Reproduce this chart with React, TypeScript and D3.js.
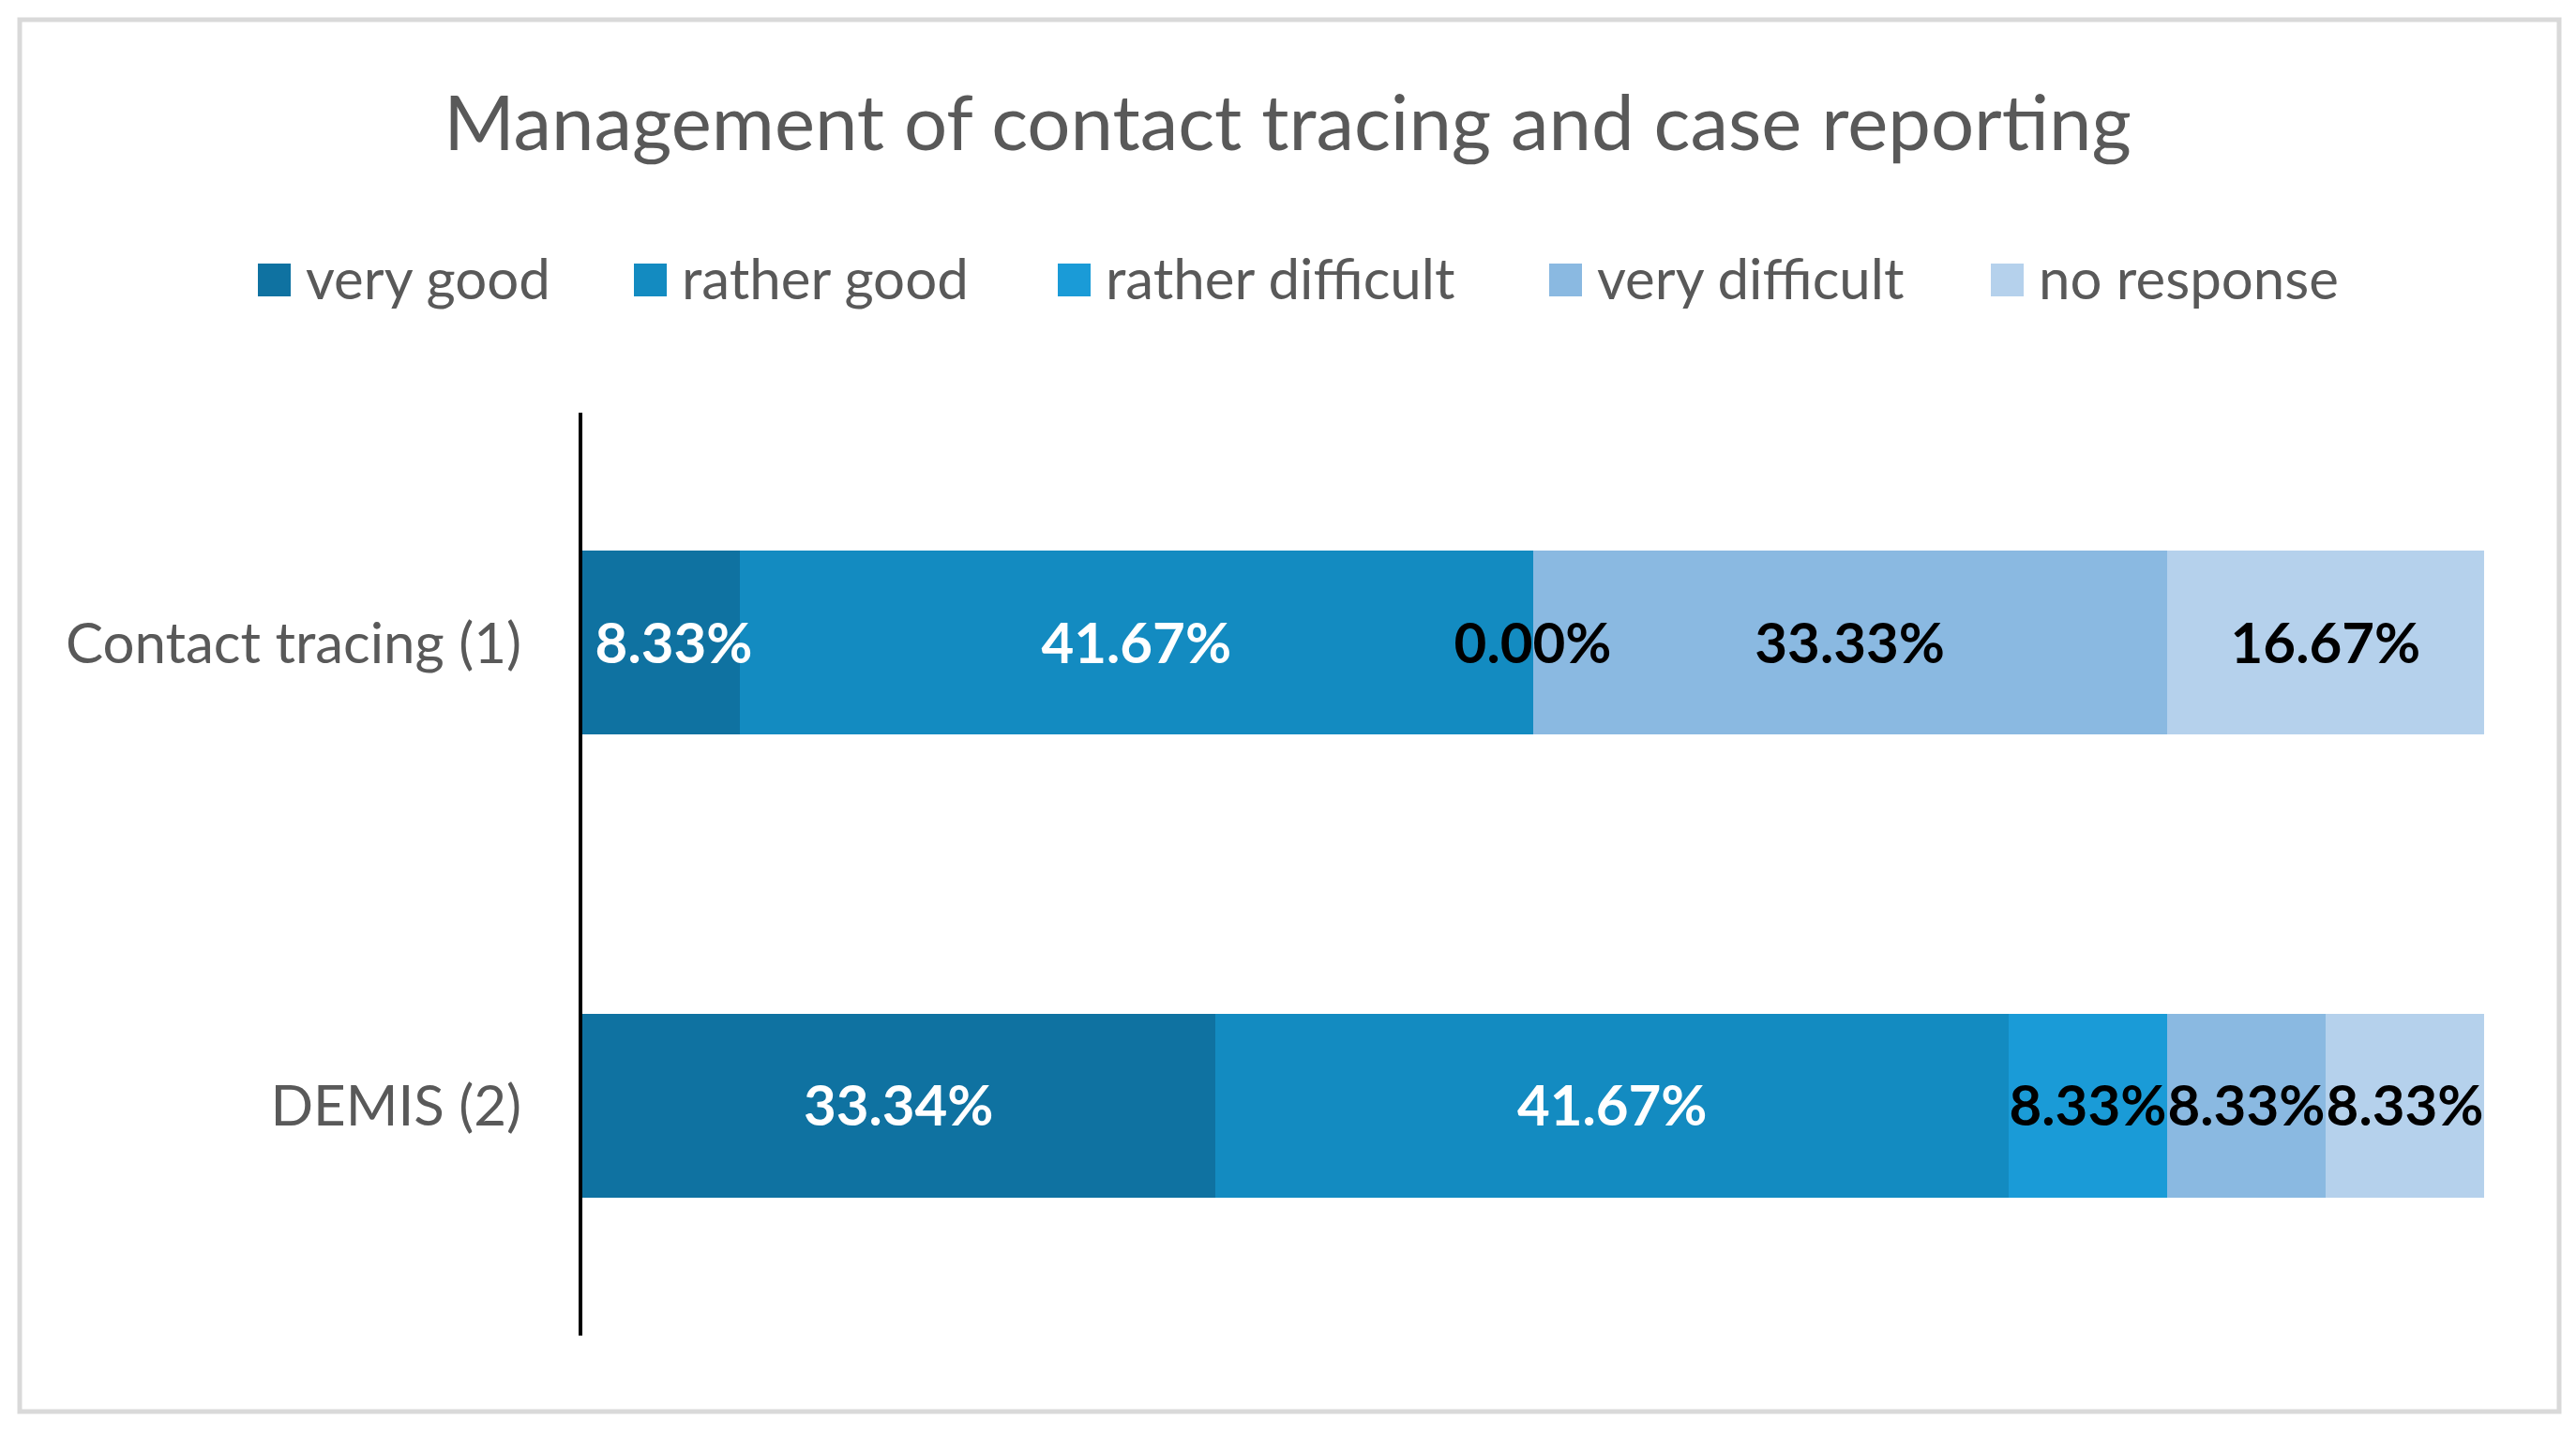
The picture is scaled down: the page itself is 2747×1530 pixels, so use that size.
import React from "react";
import * as d3 from "d3";

const title = "Management of contact tracing and case reporting";
const categories = ["Contact tracing (1)", "DEMIS (2)"];
const seriesNames = ["very good", "rather good", "rather difficult", "very difficult", "no response"];
const seriesColors = ["#0f72a1", "#138bc1", "#1a9bd7", "#8ab9e1", "#b5d1ec"];
const labelColors = ["#ffffff", "#ffffff", "#000000", "#000000", "#000000"];
const veryGood = [8.33, 33.34];
const ratherGood = [41.67, 41.67];
const ratherDifficult = [0.0, 8.33];
const veryDifficult = [33.33, 8.33];
const noResponse = [16.67, 8.33];
const seriesValues = [veryGood, ratherGood, ratherDifficult, veryDifficult, noResponse];

const W = 2747;
const H = 1530;
const FONT = "Lato, 'Open Sans', sans-serif";

export default function App() {
  const x = d3.scaleLinear().domain([0, 100]).range([620, 2649]);
  const y = d3.scaleBand().domain(categories).range([440, 1424]).paddingInner(0.603).paddingOuter(0.298);

  const rows = categories.map((c, ci) => {
    const obj: any = { cat: c };
    seriesNames.forEach((s, si) => (obj[s] = seriesValues[si][ci]));
    return obj;
  });
  const stacked = d3.stack().keys(seriesNames)(rows);

  const legendX = [275, 676, 1128, 1652, 2123];

  return (
    <svg width={W} height={H} style={{ position: "absolute", left: 0, top: 0, background: "#fff" }}>
      <rect x={21} y={21} width={2708} height={1484} fill="#ffffff" stroke="#d9d9d9" strokeWidth={5} />
      <text x={1373} y={160} textAnchor="middle" fontFamily={FONT} fontSize={81.5} fill="#595959">
        {title}
      </text>
      {seriesNames.map((s, i) => (
        <g key={s}>
          <rect x={legendX[i]} y={281} width={35} height={35} fill={seriesColors[i]} />
          <text x={legendX[i] + 51} y={319} fontFamily={FONT} fontSize={60} fill="#595959">
            {s}
          </text>
        </g>
      ))}
      {stacked.map((layer, si) => (
        <g key={layer.key} shapeRendering="crispEdges">
          {layer.map((d, ci) => {
            const cat = categories[ci];
            const x0 = x(d[0]);
            const x1 = x(d[1]);
            const yy = y(cat)!;
            return (
              <rect
                key={cat}
                x={x0}
                y={yy}
                width={Math.max(0, x1 - x0)}
                height={y.bandwidth()}
                fill={seriesColors[si]}
              />
            );
          })}
        </g>
      ))}
      {stacked.map((layer, si) => (
        <g key={"l" + layer.key}>
          {layer.map((d, ci) => {
            const cat = categories[ci];
            const cx = (x(d[0]) + x(d[1])) / 2 + (si === 0 && ci === 0 ? 14 : 0);
            const cy = y(cat)! + y.bandwidth() / 2;
            return (
              <text
                key={cat}
                x={cx}
                y={cy}
                dy="0.36em"
                textAnchor="middle"
                fontFamily={FONT}
                fontWeight={700}
                fontSize={60}
                fill={labelColors[si]}
              >
                {seriesValues[si][ci].toFixed(2) + "%"}
              </text>
            );
          })}
        </g>
      ))}
      <line x1={619} x2={619} y1={440} y2={1424} stroke="#000" strokeWidth={4} />
      {categories.map((c) => (
        <text
          key={c}
          x={556}
          y={y(c)! + y.bandwidth() / 2}
          dy="0.36em"
          textAnchor="end"
          fontFamily={FONT}
          fontSize={60}
          fill="#595959"
        >
          {c}
        </text>
      ))}
    </svg>
  );
}
